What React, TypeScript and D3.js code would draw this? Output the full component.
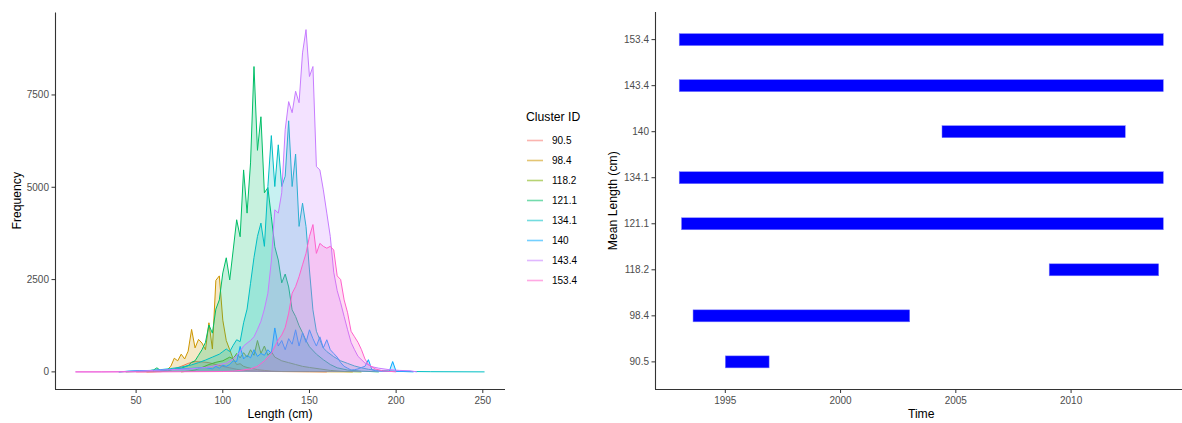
import React from "react";
import * as d3 from "d3";

// ---------- Left panel data: length-frequency by cluster ----------
const clusterIds = ["90.5", "98.4", "118.2", "121.1", "134.1", "140", "143.4", "153.4"];
const clusterColors = ["#F8766D", "#CD9600", "#7CAE00", "#00BE67", "#00BFC4", "#00A9FF", "#C77CFF", "#FF61CC"];

const freq905: [number, number][] = [
  [50, 0], [64, 5], [68, 20], [72, 80], [76, 150], [80, 230], [84, 280], [88, 270], [92, 250], [96, 200],
  [100, 150], [104, 110], [108, 70], [112, 40], [120, 20], [130, 10], [150, 5], [160, 0],
];
const freq984: [number, number][] = [
  [56, 0], [60, 5], [62, 10], [64, 20], [66, 30], [68, 60], [70, 150], [72, 370], [74, 300], [76, 480],
  [78, 350], [80, 560], [82, 1150], [84, 650], [86, 880], [88, 780], [90, 600], [92, 1330], [94, 620],
  [96, 2480], [98, 2600], [100, 1400], [102, 850], [104, 600], [106, 350], [108, 200], [110, 220],
  [112, 150], [114, 120], [116, 100], [118, 80], [120, 60], [124, 40], [128, 20], [134, 10], [150, 5], [175, 0],
];
const freq1182: [number, number][] = [
  [76, 0], [80, 20], [84, 50], [88, 120], [92, 200], [96, 260], [100, 300], [104, 400], [106, 350],
  [108, 500], [110, 380], [112, 520], [114, 400], [116, 600], [118, 450], [120, 850], [122, 500],
  [124, 700], [126, 450], [128, 550], [130, 400], [134, 300], [138, 250], [142, 200], [146, 150],
  [150, 120], [156, 80], [162, 40], [170, 10], [180, 0],
];
const freq1211: [number, number][] = [
  [44, 0], [50, 10], [56, 20], [60, 50], [62, 110], [64, 40], [68, 50], [72, 70], [76, 100], [80, 170],
  [82, 260], [84, 300], [86, 450], [88, 600], [90, 800], [92, 1270], [94, 1050], [96, 1700], [98, 1950],
  [100, 2680], [102, 3090], [104, 2490], [106, 3300], [108, 4120], [110, 3660], [112, 5470], [114, 4300],
  [116, 5660], [118, 8270], [120, 6000], [122, 6910], [124, 4850], [126, 4990], [128, 4200], [130, 3390],
  [132, 3030], [134, 2410], [136, 2650], [138, 2300], [140, 1680], [142, 1500], [144, 1250], [146, 1060],
  [148, 850], [150, 680], [154, 480], [158, 330], [162, 200], [166, 110], [172, 50], [180, 20], [190, 0],
];
const freq1341: [number, number][] = [
  [40, 0], [46, 15], [52, 30], [58, 40], [64, 60], [70, 90], [76, 130], [82, 190], [86, 250], [90, 320],
  [94, 400], [98, 480], [100, 550], [102, 620], [104, 550], [106, 720], [108, 870], [110, 820],
  [112, 1330], [114, 1700], [116, 2400], [118, 3100], [120, 3670], [122, 4030], [124, 3400], [126, 5020],
  [128, 6400], [130, 5020], [132, 6150], [134, 5020], [136, 5300], [138, 6800], [140, 5020], [142, 5900],
  [144, 3940], [146, 4570], [148, 3940], [150, 2760], [152, 1680], [154, 1100], [156, 870], [158, 650],
  [160, 550], [164, 410], [168, 300], [172, 230], [176, 160], [180, 110], [184, 70], [190, 40], [200, 20],
  [210, 10], [220, 5], [251, 0],
];
const freq140: [number, number][] = [
  [40, 0], [46, 20], [52, 30], [60, 40], [68, 60], [76, 80], [84, 100], [90, 120], [94, 80], [96, 150],
  [98, 100], [100, 180], [102, 150], [104, 200], [106, 300], [108, 280], [110, 690], [112, 350], [114, 450],
  [116, 380], [118, 600], [120, 420], [122, 500], [124, 450], [126, 600], [128, 500], [130, 1190], [132, 700],
  [134, 850], [136, 600], [138, 900], [140, 750], [142, 1140], [144, 700], [146, 1060], [148, 800],
  [150, 1140], [152, 900], [154, 700], [156, 950], [158, 650], [160, 870], [162, 600], [164, 500],
  [166, 400], [168, 250], [170, 150], [172, 100], [174, 50], [176, 60], [178, 80], [180, 120], [182, 150],
  [184, 330], [186, 60], [188, 30], [190, 20], [196, 10], [198, 280], [200, 10], [204, 10], [210, 0],
];
const freq1434: [number, number][] = [
  [15, 0], [30, 0], [40, 5], [50, 20], [60, 40], [70, 60], [80, 80], [86, 100], [90, 120], [94, 150],
  [98, 200], [102, 240], [106, 350], [110, 550], [112, 700], [114, 780], [116, 850], [118, 950], [120, 1150],
  [122, 1370], [124, 1700], [126, 2130], [128, 3000], [130, 4390], [132, 4300], [134, 4850], [136, 6560],
  [138, 7320], [140, 7020], [142, 7600], [144, 7290], [146, 8640], [148, 9270], [150, 8000], [152, 8270],
  [154, 5560], [156, 5470], [158, 4930], [160, 4300], [162, 3670], [164, 2700], [166, 2200], [168, 1870],
  [170, 1500], [172, 1140], [174, 800], [176, 600], [178, 420], [182, 240], [186, 140], [190, 100],
  [196, 60], [202, 40], [208, 30], [212, 0],
];
const freq1534: [number, number][] = [
  [15, 0], [60, 0], [100, 10], [106, 20], [110, 40], [116, 80], [120, 150], [124, 300], [128, 500],
  [132, 870], [134, 1000], [136, 1200], [138, 1590], [140, 2130], [142, 2310], [144, 2580], [146, 2900],
  [148, 3210], [150, 3670], [152, 3990], [154, 3210], [156, 3480], [158, 3400], [160, 3350], [162, 3400],
  [164, 3300], [166, 2600], [168, 2500], [170, 1950], [172, 1600], [174, 1100], [176, 950], [178, 800],
  [180, 600], [182, 350], [184, 200], [188, 80], [192, 30], [200, 0],
];
const seriesList = [freq905, freq984, freq1182, freq1211, freq1341, freq140, freq1434, freq1534];
const lengthTicks = [50, 100, 150, 200, 250];
const freqTicks = [0, 2500, 5000, 7500];

// ---------- Right panel data: time span of each cluster ----------
const spanStart = [1995.0, 1993.6, 2009.05, 1993.1, 1993.0, 2004.4, 1993.0, 1993.0];
const spanEnd = [1996.9, 2003.0, 2013.8, 2014.0, 2014.0, 2012.35, 2014.0, 2014.0];
const yearTicks = [1995, 2000, 2005, 2010];

const FONT = "'Liberation Sans', Arial, Helvetica, sans-serif";
const TICK_COL = "#4D4D4D";
const AXIS_COL = "#333333";

export default function App() {
  // Left panel scales
  const allPts = seriesList.flat();
  const lMin = d3.min(allPts, (d) => d[0]) as number;
  const lMax = d3.max(allPts, (d) => d[0]) as number;
  const fMax = d3.max(allPts, (d) => d[1]) as number;
  const lPad = (lMax - lMin) * 0.05;
  const fPad = fMax * 0.05;
  const L = { left: 55, right: 505, top: 12.5, bottom: 389 };
  const xL = d3.scaleLinear().domain([lMin - lPad, lMax + lPad]).range([L.left, L.right]);
  const yL = d3.scaleLinear().domain([-fPad, fMax + fPad]).range([L.bottom, L.top]);
  const area = d3
    .area<[number, number]>()
    .x((d) => xL(d[0]))
    .y0(yL(0))
    .y1((d) => yL(d[1]));
  const line = d3
    .line<[number, number]>()
    .x((d) => xL(d[0]))
    .y((d) => yL(d[1]));

  // Right panel scales
  const R = { left: 655, right: 1187.5, top: 12, bottom: 389.5 };
  const tMin = d3.min(spanStart) as number;
  const tMax = d3.max(spanEnd) as number;
  const tPad = (tMax - tMin) * 0.05;
  const xR = d3.scaleLinear().domain([tMin - tPad, tMax + tPad]).range([R.left, R.right]);
  const yR = d3.scalePoint<string>().domain(clusterIds).range([R.bottom, R.top]).padding(0.6);
  const barH = 12;

  return (
    <svg
      width={1182}
      height={423}
      style={{ position: "absolute", left: 0, top: 0, background: "#fff" }}
      fontFamily={FONT}
    >
      <rect x={0} y={0} width={1182} height={423} fill="#fff" />

      {/* ===== Left panel ===== */}
      <g>
        {seriesList.map((s, i) => (
          <g key={clusterIds[i]}>
            <path d={area(s) || ""} fill={clusterColors[i]} fillOpacity={0.22} stroke="none" />
            <path d={line(s) || ""} fill="none" stroke={clusterColors[i]} strokeWidth={1} />
          </g>
        ))}
        {/* axes */}
        <line x1={L.left + 0.5} x2={L.left + 0.5} y1={L.top} y2={L.bottom + 0.5} stroke={AXIS_COL} strokeWidth={1.1} />
        <line x1={L.left} x2={L.right} y1={L.bottom + 0.5} y2={L.bottom + 0.5} stroke={AXIS_COL} strokeWidth={1.1} />
        {lengthTicks.map((t) => (
          <g key={"lx" + t}>
            <line x1={xL(t)} x2={xL(t)} y1={L.bottom + 0.5} y2={L.bottom + 4} stroke={AXIS_COL} strokeWidth={1} />
            <text x={xL(t)} y={404} textAnchor="middle" fontSize={10} fill={TICK_COL}>
              {t}
            </text>
          </g>
        ))}
        {freqTicks.map((t) => (
          <g key={"ly" + t}>
            <line x1={L.left - 3.5} x2={L.left + 0.5} y1={yL(t)} y2={yL(t)} stroke={AXIS_COL} strokeWidth={1} />
            <text x={L.left - 6} y={yL(t)} dy="0.35em" textAnchor="end" fontSize={10} fill={TICK_COL}>
              {t}
            </text>
          </g>
        ))}
        <text x={(L.left + L.right) / 2} y={418} textAnchor="middle" fontSize={12.2} fill="#000">
          Length (cm)
        </text>
        <text
          transform={`translate(21,${(L.top + L.bottom) / 2}) rotate(-90)`}
          textAnchor="middle"
          fontSize={12.2}
          fill="#000"
        >
          Frequency
        </text>

        {/* legend */}
        <text x={526} y={121} fontSize={12.2} fill="#000">
          Cluster ID
        </text>
        {clusterIds.map((id, i) => (
          <g key={"lg" + id}>
            <line
              x1={527}
              x2={543}
              y1={140.5 + i * 20}
              y2={140.5 + i * 20}
              stroke={clusterColors[i]}
              strokeOpacity={0.55}
              strokeWidth={1.6}
            />
            <text x={552} y={140.5 + i * 20} dy="0.35em" fontSize={10} fill="#000">
              {id}
            </text>
          </g>
        ))}
      </g>

      {/* ===== Right panel ===== */}
      <g>
        {clusterIds.map((id, i) => (
          <rect
            key={"bar" + id}
            x={xR(spanStart[i])}
            y={(yR(id) as number) - barH / 2}
            width={xR(spanEnd[i]) - xR(spanStart[i])}
            height={barH}
            fill="#0000FF"
            stroke="#7f7fff"
            strokeWidth={0.5}
          />
        ))}
        <line x1={R.left + 0.5} x2={R.left + 0.5} y1={R.top} y2={R.bottom} stroke={AXIS_COL} strokeWidth={1.1} />
        <line x1={R.left} x2={1182} y1={R.bottom} y2={R.bottom} stroke={AXIS_COL} strokeWidth={1.1} />
        {yearTicks.map((t) => (
          <g key={"rx" + t}>
            <line x1={xR(t)} x2={xR(t)} y1={R.bottom} y2={R.bottom + 3.5} stroke={AXIS_COL} strokeWidth={1} />
            <text x={xR(t)} y={404} textAnchor="middle" fontSize={10} fill={TICK_COL}>
              {t}
            </text>
          </g>
        ))}
        {clusterIds.map((id) => (
          <g key={"ry" + id}>
            <line
              x1={R.left - 3.5}
              x2={R.left + 0.5}
              y1={yR(id) as number}
              y2={yR(id) as number}
              stroke={AXIS_COL}
              strokeWidth={1}
            />
            <text x={R.left - 6} y={yR(id) as number} dy="0.35em" textAnchor="end" fontSize={10} fill={TICK_COL}>
              {id}
            </text>
          </g>
        ))}
        <text x={(R.left + R.right) / 2} y={418} textAnchor="middle" fontSize={12.2} fill="#000">
          Time
        </text>
        <text
          transform={`translate(616.5,${(R.top + R.bottom) / 2}) rotate(-90)`}
          textAnchor="middle"
          fontSize={12.2}
          fill="#000"
        >
          Mean Length (cm)
        </text>
      </g>
    </svg>
  );
}
